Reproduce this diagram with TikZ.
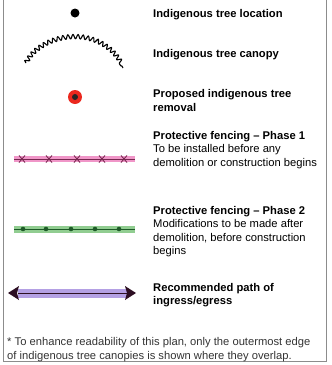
\documentclass[tikz,border=0pt]{standalone}
\usepackage{fontspec}
\setmainfont{Liberation Sans}
\usetikzlibrary{decorations.pathmorphing}
\definecolor{pinkband}{RGB}{240,150,200}
\definecolor{pinkline}{RGB}{120,40,80}
\definecolor{greenband}{RGB}{145,205,145}
\definecolor{greenline}{RGB}{30,90,40}
\definecolor{purpband}{RGB}{180,160,228}
\definecolor{purpdark}{RGB}{45,15,35}
\definecolor{redfill}{RGB}{235,40,30}
\tikzset{
  lbl/.style={anchor=west, inner sep=0pt, align=left, font=\fontsize{11.2}{13.5}\selectfont},
  bl/.style={lbl, font=\fontsize{11.2}{13.5}\selectfont\bfseries},
}
\begin{document}
\begin{tikzpicture}[x=1pt,y=-1pt]
\useasboundingbox (0,0) rectangle (332,365);
\draw[black!45, line width=1pt] (3.5,-5) -- (3.5,361) -- (326,361) -- (326,-5);
% tree location
\fill[black] (75,13) circle (4.5);
\node[bl] (t1) at (153,15) {Indigenous tree location};
% canopy
\draw[line width=1.1pt, line join=round, decorate, decoration={snake, amplitude=2.2pt, segment length=5pt}]
  (26,63) .. controls (40,35) and (100,22) .. (123,68);
\node[bl] (t2) at (153,55) {Indigenous tree canopy};
% removal
\fill[redfill] (75,97) circle (7);
\fill[black!85] (75,97) circle (3);
\node[bl] (t3) at (153,100.5) {Proposed indigenous tree\\removal};
% phase 1
\draw[pinkband, line width=6pt] (14,159) -- (135,159);
\draw[pinkline, line width=0.9pt] (14,159) -- (135,159);
\foreach \x in {22,49,77,102,124}{
  \draw[pinkline, line width=0.9pt] (\x-3,155.5) -- (\x+3,162.5) (\x-3,162.5) -- (\x+3,155.5);
}
\node[lbl] (t4) at (153,150) {\textbf{Protective fencing – Phase 1}\\To be installed before any\\demolition or construction begins};
% phase 2
\draw[greenband, line width=7pt] (14,229) -- (135,229);
\draw[greenline, line width=0.9pt] (14,229) -- (135,229);
\foreach \x in {23,46,71,95,119}{
  \fill[greenline] (\x,229) circle (2.3);
}
\node[lbl] (t5) at (153,231.5) {\textbf{Protective fencing – Phase 2}\\Modifications to be made after\\demolition, before construction\\begins};
% path
\draw[purpband, line width=9pt] (18,293) -- (127,293);
\draw[purpdark, line width=0.8pt] (18,293) -- (127,293);
\fill[purpdark] (8,293) -- (19,286) -- (17,293) -- (19,300) -- cycle;
\fill[purpdark] (136,293) -- (125,286) -- (127,293) -- (125,300) -- cycle;
\node[bl] (t6) at (153,295) {Recommended path of\\ingress/egress};
% footnote
\node[lbl, text=black!80] (fn) at (7,349.5) {* To enhance readability of this plan, only the outermost edge\\of indigenous tree canopies is shown where they overlap.};
\end{tikzpicture}
\end{document}
